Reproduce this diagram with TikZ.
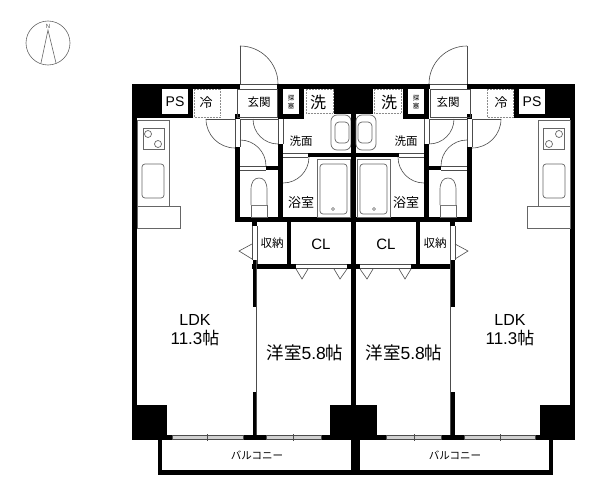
\documentclass[tikz,border=0pt]{standalone}
\usepackage{fontspec}
\setmainfont{Liberation Sans}
\newfontfamily\jpfont{Noto Sans CJK JP}
\tikzset{
  wall/.style={fill=black,draw=none},
  thinline/.style={draw=black!70,line width=.6pt},
  fixture/.style={draw=black!60,line width=.7pt,fill=white},
  dashbox/.style={draw=black!45,line width=.5pt,densely dotted,fill=white},
  glass/.style={draw=black!70,line width=.5pt,fill=black!18},
  roomtext/.style={font=\jpfont\fontsize{11.5}{13}\selectfont,inner sep=0pt},
  bigtext/.style={font=\jpfont\fontsize{17.5}{20}\selectfont,inner sep=0pt},
  latintext/.style={font=\fontsize{14}{16}\selectfont,inner sep=0pt},
  areatext/.style={font=\fontsize{17}{20}\selectfont,inner sep=0pt},
  tinytext/.style={font=\jpfont\fontsize{6.5}{8}\selectfont,inner sep=0pt,align=center},
}
\begin{document}
\begin{tikzpicture}[x=1pt,y=-1pt]
\useasboundingbox (0,0) rectangle (600,495);

% balcony
\fill[wall] (158,440) rectangle (553,475);
\fill[white] (162,440) rectangle (351,470);
\fill[white] (360,440) rectangle (549,470);

% the two flats are mirror images
\foreach \mx/\sx in {0/1,707/-1}{
\begin{scope}[xshift=\mx,xscale=\sx]
  % outer walls
  \fill[wall] (132,84) rectangle (240,89);
  \fill[wall] (277,84) rectangle (353.5,89);
  \fill[wall] (132,84) rectangle (137,440);
  \fill[wall] (132,89) rectangle (193,118);
  \fill[wall] (132,405) rectangle (167,440);
  \fill[wall] (330,405) rectangle (353.5,440);
  \fill[wall] (132,435) rectangle (353.5,440);
  \fill[wall] (351,84) rectangle (356,440);
  \fill[wall] (334,84) rectangle (353.5,114);
  \fill[white] (162,89) rectangle (188,114);
  % windows
  \filldraw[glass] (172,435.5) rectangle (243,439.5);
  \filldraw[glass] (266,435.5) rectangle (321,439.5);
  \draw[thinline] (207,434) -- (207,441);
  \draw[thinline] (293,434) -- (293,441);
  % walls round the wet rooms
  \fill[wall] (235,114) rectangle (240,119);
  \fill[wall] (235,147) rectangle (240,222);
  \fill[wall] (235,217) rectangle (353.5,222);
  \fill[wall] (278,84) rectangle (283,119);
  \fill[wall] (299,84) rectangle (304,119);
  \fill[wall] (278,114) rectangle (304,119);
  \fill[wall] (278,144) rectangle (283,222);
  \fill[wall] (308,153) rectangle (353.5,157);
  \fill[wall] (266,166) rectangle (278,170);
  % closets and bedroom
  \fill[wall] (252,222) rectangle (257,226);
  \fill[wall] (287,222) rectangle (291,264);
  \fill[wall] (252.5,260) rectangle (256.5,307);
  \fill[wall] (252.5,392) rectangle (256.5,435);
  \fill[wall] (252,264) rectangle (296,269);
  \fill[wall] (347,264) rectangle (353.5,269);
  \draw[thinline] (256.5,260) -- (256.5,435);
  \draw[thinline] (252,226) -- (252,260) (257,226) -- (257,264);
  \draw[thinline] (296,264.5) -- (347,264.5) (296,268.5) -- (347,268.5);
  \draw[thinline] (296,269) -- (302,279) -- (308,269);
  \draw[thinline] (334,269) -- (340,279) -- (347,269);
  \draw[thinline] (252,244) -- (239,251) -- (252,259);
  % door openings
  \draw[thinline] (240,84) -- (277,84) (240,89) -- (277,89);
  \draw[thinline] (237,89) rectangle (277,117);
  \draw[thinline] (240,46) -- (240,84);
  \draw[thinline] (240,46) arc[start angle=-90,end angle=0,radius=38];
  \draw[thinline] (206,119) -- (235,119);
  \draw[thinline] (206,119) arc[start angle=180,end angle=90,radius=29];
  \draw[thinline] (235,119) -- (235,147) (240,119) -- (240,147);
  \draw[thinline] (240,119) -- (278,119);
  \draw[thinline] (253,119) arc[start angle=180,end angle=90,radius=25];
  \draw[thinline] (278,119) -- (278,144) (283,119) -- (283,144);
  \draw[thinline] (240,140) arc[start angle=-90,end angle=0,radius=26];
  \draw[thinline] (240,166) -- (266,166) (240,170) -- (266,170);
  \draw[thinline] (283,183) arc[start angle=90,end angle=0,radius=26];
  \draw[thinline] (283,153) -- (308,153) (283,157) -- (308,157);
  % kitchen
  \draw[fixture] (137,120) rectangle (169,206);
  \draw[fixture] (137,206) rectangle (180,228);
  \draw[fixture] (143,128) rectangle (164,149);
  \draw[fixture] (148,134) circle[radius=3.5];
  \draw[fixture] (158,144) circle[radius=3.5];
  \draw[fixture,rounded corners=3pt] (142,164) rectangle (164,198);
  % washbasin
  \draw[fixture,rounded corners=6pt] (331,115) rectangle (351,150);
  \draw[fixture,rounded corners=4pt] (335,122) rectangle (349,143);
  % bath
  \draw[fixture] (317,159) rectangle (350,217);
  \draw[fixture,rounded corners=3pt] (320,164) rectangle (347,214);
  \draw[fixture] (333,209) circle[radius=1.5];
  % toilet
  \draw[fixture] (251,205) rectangle (267,217);
  \draw[fixture] (251,205) -- (251,190) .. controls (251,182) and (254,178) .. (259,178)
    .. controls (264,178) and (267,182) .. (267,190) -- (267,205);
\end{scope}
}

% dotted boxes
\draw[dashbox] (194,89) rectangle (220,117);
\draw[dashbox] (306,89) rectangle (333,113);
\draw[dashbox] (487,89) rectangle (513,117);
\draw[dashbox] (374,89) rectangle (401,113);

% north mark
\draw[draw=black!60,line width=.6pt] (48,43) circle[radius=22];
\draw[draw=black!60,line width=.6pt] (41,63) -- (48,30) -- (56,63);
\node[font=\fontsize{6}{7}\selectfont,text=black!70,inner sep=0pt] (north) at (48,26) {N};

% labels
\node[latintext] (psL) at (175,102) {PS};
\node[latintext] (psR) at (532,102) {PS};
\node[roomtext,font=\jpfont\fontsize{13}{15}\selectfont] (reiL) at (206,103) {冷};
\node[roomtext,font=\jpfont\fontsize{13}{15}\selectfont] (reiR) at (501,103) {冷};
\node[roomtext] (genL) at (259,102) {玄関};
\node[roomtext] (genR) at (448,102) {玄関};
\node[tinytext] (boxL) at (291,102) {探\\塞};
\node[tinytext] (boxR) at (416,102) {探\\塞};
\node[roomtext,font=\jpfont\fontsize{16}{18}\selectfont] (senL) at (318,102) {洗};
\node[roomtext,font=\jpfont\fontsize{16}{18}\selectfont] (senR) at (389,102) {洗};
\node[roomtext] (menL) at (301,141) {洗面};
\node[roomtext] (menR) at (406,141) {洗面};
\node[roomtext,font=\jpfont\fontsize{13}{15}\selectfont] (yokuL) at (301,203) {浴室};
\node[roomtext,font=\jpfont\fontsize{13}{15}\selectfont] (yokuR) at (406,203) {浴室};
\node[roomtext] (shuL) at (272,243) {収納};
\node[roomtext] (shuR) at (435,243) {収納};
\node[latintext,font=\fontsize{15}{17}\selectfont] (clL) at (321,244) {CL};
\node[latintext,font=\fontsize{15}{17}\selectfont] (clR) at (386,244) {CL};
\node[areatext,font=\fontsize{16}{18}\selectfont] (ldkL) at (195,320) {LDK};
\node[areatext,font=\fontsize{16}{18}\selectfont] (ldkR) at (510,320) {LDK};
\node[areatext] (areaL) at (195,338) {11.3{\jpfont 帖}};
\node[areatext] (areaR) at (510,338) {11.3{\jpfont 帖}};
\node[bigtext] (yoL) at (305,353) {洋室{\fontspec{Liberation Sans}5.8}帖};
\node[bigtext] (yoR) at (404,353) {洋室{\fontspec{Liberation Sans}5.8}帖};
\node[roomtext,font=\jpfont\fontsize{10.5}{12}\selectfont] (balL) at (257,455) {バルコニー};
\node[roomtext,font=\jpfont\fontsize{10.5}{12}\selectfont] (balR) at (455,455) {バルコニー};
\end{tikzpicture}
\end{document}
